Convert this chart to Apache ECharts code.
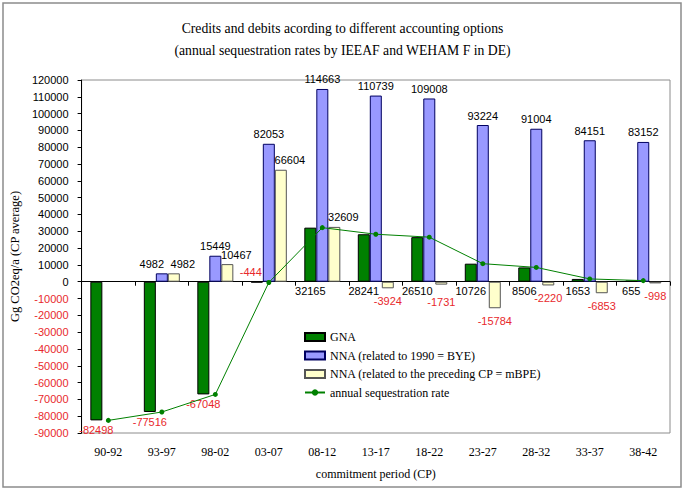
<!DOCTYPE html>
<html><head><meta charset="utf-8">
<script src="https://cdn.jsdelivr.net/npm/echarts@6/dist/echarts.min.js"></script>
<style>html,body{margin:0;padding:0;background:#fff}#c{width:685px;height:491px}</style>
</head><body><div id="c"></div>
<script>
const categories = ['90-92','93-97','98-02','03-07','08-12','13-17','18-22','23-27','28-32','33-37','38-42'];
const gna = [-82498,-77516,-67048,-444,32165,28241,26510,10726,8506,1653,655];
const nnaBYE = [null,4982,15449,82053,114663,110739,109008,93224,91004,84151,83152];
const nnaMBPE = [null,4982,10467,66604,32609,-3924,-1731,-15784,-2220,-6853,-998];
const seqRate = [-82498,-77516,-67048,-444,32165,28241,26510,10726,8506,1653,655];
const yMin = -90000, yMax = 120000, yStep = 10000;
const seriesNames = ['GNA','NNA (related to 1990 = BYE)','NNA (related to the preceding CP = mBPE)','annual sequestration rate'];
const titleLines = ['Credits and debits acording to different accounting options','(annual sequestration rates by IEEAF and WEHAM F in DE)'];
const yName = 'Gg CO2eq/a (CP average)';
const xName = 'commitment period (CP)';

const RED = '#e8282c';
const SANS = 'Liberation Sans';
const SERIF = 'Liberation Serif';
const labelBase = {show:true, fontFamily:SANS, fontSize:11, distance:4};

function gnaItem(v){
  if (v < 0 && v > -1000) return {value:v, label:{...labelBase, position:'top', color:RED, offset:[-6,0]}};
  return {value:v, label:{...labelBase, position:'bottom', color: v<0?RED:'#000'}};
}
function byeItem(v,i){
  if (v == null) return {value:null};
  return {value:v, label:{...labelBase, position:'top', color:'#000', offset:[i===1?-10:0,0]}};
}
function mbpeItem(v,i){
  if (v == null) return {value:null};
  if (v >= 0) return {value:v, label:{...labelBase, position:'top', color:'#000', offset:[9,0]}};
  return {value:v, label:{...labelBase, position:'bottom', color:RED, distance: i===6 ? 12 : 7}};
}

const chart = echarts.init(document.getElementById('c'), null, {renderer:'svg'});
chart.setOption({
  animation:false,
  backgroundColor:'#fff',
  title:{text:titleLines.join('\n'), left:'center', top:12,
    textStyle:{fontFamily:SERIF, fontSize:13.7, fontWeight:'normal', color:'#000', lineHeight:22}},
  graphic:[
    {type:'rect', shape:{x:3,y:3,width:678,height:484}, style:{fill:'none', stroke:'#8c8c8c', lineWidth:1.5}, z:-1}
  ],
  legend:{orient:'vertical', left:299, top:326, itemWidth:20, itemHeight:8, itemGap:6.5,
    textStyle:{fontFamily:SERIF, fontSize:12, color:'#000'},
    data:[
      {name:seriesNames[0], icon:'rect'},
      {name:seriesNames[1], icon:'rect'},
      {name:seriesNames[2], icon:'rect'},
      {name:seriesNames[3]}
    ]},
  grid:{left:80, right:15, top:80, bottom:58, show:true, borderColor:'#8c8c8c', borderWidth:1, backgroundColor:'#fff'},
  xAxis:[
    {type:'category', data:categories, position:'bottom',
      axisLine:{show:false, onZero:false}, axisTick:{show:false},
      axisLabel:{fontFamily:SERIF, fontSize:12, color:'#000', margin:13},
      name:xName, nameLocation:'middle', nameGap:35,
      nameTextStyle:{fontFamily:SERIF, fontSize:12, color:'#000'}},
    {type:'category', data:categories, position:'top',
      axisLine:{show:true, onZero:true, lineStyle:{color:'#000', width:1}},
      axisTick:{show:true, inside:true, length:4, lineStyle:{color:'#000'}},
      axisLabel:{show:false}}
  ],
  yAxis:{type:'value', min:yMin, max:yMax, interval:yStep,
    name:yName, nameLocation:'middle', nameGap:46, nameRotate:90,
    nameTextStyle:{fontFamily:SERIF, fontSize:12.5, color:'#000'},
    axisLine:{show:true, lineStyle:{color:'#000'}},
    axisTick:{show:true, length:4, lineStyle:{color:'#000'}},
    splitLine:{show:false},
    axisLabel:{fontFamily:SANS, fontSize:11, margin:13, formatter:(v)=>String(v),
      color:(v)=> Number(v)<0?RED:'#000'}},
  series:[
    {name:seriesNames[0], type:'bar', barWidth:12, barGap:'0%',
      itemStyle:{color:'#008000', borderColor:'#000', borderWidth:1},
      data:gna.map(gnaItem)},
    {name:seriesNames[1], type:'bar', barWidth:12, barGap:'0%',
      itemStyle:{color:'#9999ff', borderColor:'#000060', borderWidth:1},
      data:nnaBYE.map(byeItem)},
    {name:seriesNames[2], type:'bar', barWidth:12, barGap:'0%',
      itemStyle:{color:'#ffffcc', borderColor:'#555', borderWidth:1},
      data:nnaMBPE.map(mbpeItem)},
    {name:seriesNames[3], type:'line', data:seqRate, z:5,
      symbol:'circle', symbolSize:5,
      lineStyle:{color:'#008000', width:1}, itemStyle:{color:'#008000'}}
  ]
});
</script></body></html>
